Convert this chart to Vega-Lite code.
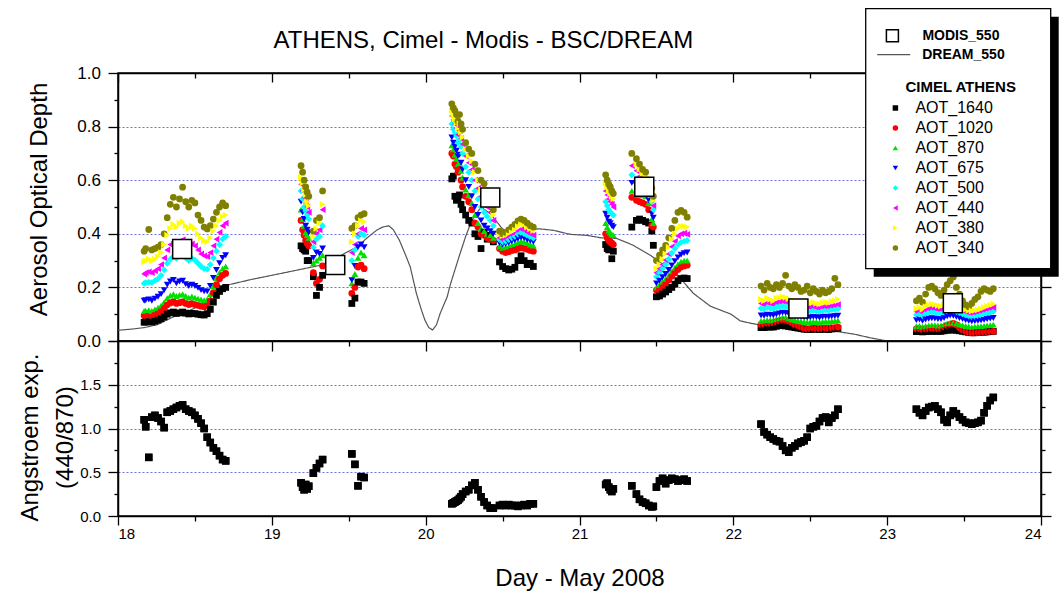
{
  "$schema": "https://vega.github.io/schema/vega-lite/v6.json",
  "padding": {"left": 17, "top": 8, "right": 0, "bottom": 0},
  "bounds": "flush",
  "title": {"text": "ATHENS, Cimel - Modis - BSC/DREAM", "fontSize": 24, "font": "Liberation Sans", "fontWeight": "normal", "color": "black", "anchor": "middle", "dx": -55, "dy": 48},
  "datasets": {
    "dream": [
      {"d":18.0,"v":0.040},{"d":18.1,"v":0.045},{"d":18.17,"v":0.050},{"d":18.25,"v":0.060},{"d":18.36,"v":0.090},{"d":18.45,"v":0.110},{"d":18.54,"v":0.134},{"d":18.6,"v":0.160},{"d":18.645,"v":0.200},{"d":18.75,"v":0.214},{"d":18.87,"v":0.230},{"d":19.0,"v":0.245},{"d":19.16,"v":0.264},{"d":19.31,"v":0.282},{"d":19.4,"v":0.300},{"d":19.47,"v":0.326},{"d":19.55,"v":0.350},{"d":19.62,"v":0.385},{"d":19.68,"v":0.413},{"d":19.72,"v":0.425},{"d":19.76,"v":0.430},{"d":19.79,"v":0.415},{"d":19.83,"v":0.375},{"d":19.87,"v":0.320},{"d":19.9,"v":0.276},{"d":19.94,"v":0.177},{"d":19.97,"v":0.120},{"d":19.995,"v":0.078},{"d":20.02,"v":0.050},{"d":20.045,"v":0.041},{"d":20.07,"v":0.060},{"d":20.095,"v":0.104},{"d":20.14,"v":0.165},{"d":20.16,"v":0.210},{"d":20.22,"v":0.320},{"d":20.26,"v":0.390},{"d":20.3,"v":0.450},{"d":20.36,"v":0.500},{"d":20.42,"v":0.475},{"d":20.49,"v":0.425},{"d":20.54,"v":0.394},{"d":20.62,"v":0.400},{"d":20.73,"v":0.419},{"d":20.83,"v":0.413},{"d":20.94,"v":0.398},{"d":21.05,"v":0.394},{"d":21.14,"v":0.385},{"d":21.24,"v":0.383},{"d":21.35,"v":0.357},{"d":21.46,"v":0.320},{"d":21.535,"v":0.289},{"d":21.655,"v":0.234},{"d":21.74,"v":0.178},{"d":21.85,"v":0.130},{"d":21.985,"v":0.100},{"d":22.045,"v":0.075},{"d":22.115,"v":0.066},{"d":22.245,"v":0.053},{"d":22.5,"v":0.041},{"d":22.68,"v":0.035},{"d":22.79,"v":0.025},{"d":22.89,"v":0.012},{"d":23.0,"v":0.0},{"d":23.5,"v":0.0},{"d":24.0,"v":0.0}
    ],
    "modis": [
      {"d":18.417,"v":0.343,"src":"MODIS_550"},{"d":19.412,"v":0.284,"src":"MODIS_550"},{"d":20.42,"v":0.535,"src":"MODIS_550"},{"d":21.421,"v":0.576,"src":"MODIS_550"},{"d":22.423,"v":0.121,"src":"MODIS_550"},{"d":23.427,"v":0.141,"src":"MODIS_550"}
    ],
    "aot": [
      {"d":18.17,"AOT_1640":0.070,"AOT_1020":0.095,"AOT_870":0.112,"AOT_675":0.150,"AOT_500":0.215,"AOT_440":0.250,"AOT_380":0.295,"AOT_340":0.335,"ang":1.10},
      {"d":18.18,"AOT_1640":0.071,"AOT_1020":0.096,"AOT_870":0.113,"AOT_675":0.152,"AOT_500":0.218,"AOT_440":0.255,"AOT_380":0.300,"AOT_340":0.345,"ang":1.02},
      {"d":18.20,"AOT_1640":0.072,"AOT_1020":0.098,"AOT_870":0.115,"AOT_675":0.155,"AOT_500":0.220,"AOT_440":0.258,"AOT_380":0.305,"AOT_340":0.416,"ang":0.67},
      {"d":18.22,"AOT_1640":0.071,"AOT_1020":0.096,"AOT_870":0.112,"AOT_675":0.150,"AOT_500":0.218,"AOT_440":0.255,"AOT_380":0.300,"AOT_340":0.340,"ang":1.13},
      {"d":18.24,"AOT_1640":0.074,"AOT_1020":0.100,"AOT_870":0.118,"AOT_675":0.158,"AOT_500":0.225,"AOT_440":0.262,"AOT_380":0.305,"AOT_340":0.345,"ang":1.15},
      {"d":18.26,"AOT_1640":0.078,"AOT_1020":0.105,"AOT_870":0.124,"AOT_675":0.165,"AOT_500":0.232,"AOT_440":0.270,"AOT_380":0.315,"AOT_340":0.350,"ang":1.12},
      {"d":18.28,"AOT_1640":0.083,"AOT_1020":0.112,"AOT_870":0.132,"AOT_675":0.175,"AOT_500":0.245,"AOT_440":0.285,"AOT_380":0.330,"AOT_340":0.360,"ang":1.08},
      {"d":18.30,"AOT_1640":0.090,"AOT_1020":0.122,"AOT_870":0.145,"AOT_675":0.190,"AOT_500":0.265,"AOT_440":0.310,"AOT_380":0.360,"AOT_340":0.400,"ang":1.01},
      {"d":18.32,"AOT_1640":0.100,"AOT_1020":0.135,"AOT_870":0.160,"AOT_675":0.210,"AOT_500":0.290,"AOT_440":0.340,"AOT_380":0.395,"AOT_340":0.460,"ang":1.185},
      {"d":18.34,"AOT_1640":0.105,"AOT_1020":0.142,"AOT_870":0.170,"AOT_675":0.222,"AOT_500":0.305,"AOT_440":0.360,"AOT_380":0.420,"AOT_340":0.510,"ang":1.20},
      {"d":18.36,"AOT_1640":0.108,"AOT_1020":0.146,"AOT_870":0.175,"AOT_675":0.228,"AOT_500":0.315,"AOT_440":0.370,"AOT_380":0.435,"AOT_340":0.536,"ang":1.22},
      {"d":18.38,"AOT_1640":0.103,"AOT_1020":0.140,"AOT_870":0.168,"AOT_675":0.215,"AOT_500":0.308,"AOT_440":0.362,"AOT_380":0.425,"AOT_340":0.500,"ang":1.24},
      {"d":18.40,"AOT_1640":0.105,"AOT_1020":0.143,"AOT_870":0.172,"AOT_675":0.222,"AOT_500":0.318,"AOT_440":0.372,"AOT_380":0.440,"AOT_340":0.530,"ang":1.26},
      {"d":18.42,"AOT_1640":0.108,"AOT_1020":0.146,"AOT_870":0.175,"AOT_675":0.225,"AOT_500":0.322,"AOT_440":0.378,"AOT_380":0.445,"AOT_340":0.574,"ang":1.27},
      {"d":18.44,"AOT_1640":0.104,"AOT_1020":0.140,"AOT_870":0.168,"AOT_675":0.212,"AOT_500":0.310,"AOT_440":0.365,"AOT_380":0.430,"AOT_340":0.520,"ang":1.22},
      {"d":18.46,"AOT_1640":0.101,"AOT_1020":0.136,"AOT_870":0.162,"AOT_675":0.205,"AOT_500":0.300,"AOT_440":0.355,"AOT_380":0.420,"AOT_340":0.500,"ang":1.20},
      {"d":18.48,"AOT_1640":0.103,"AOT_1020":0.139,"AOT_870":0.166,"AOT_675":0.210,"AOT_500":0.308,"AOT_440":0.362,"AOT_380":0.430,"AOT_340":0.525,"ang":1.185},
      {"d":18.50,"AOT_1640":0.102,"AOT_1020":0.136,"AOT_870":0.162,"AOT_675":0.205,"AOT_500":0.302,"AOT_440":0.355,"AOT_380":0.420,"AOT_340":0.515,"ang":1.15},
      {"d":18.52,"AOT_1640":0.100,"AOT_1020":0.133,"AOT_870":0.158,"AOT_675":0.198,"AOT_500":0.290,"AOT_440":0.340,"AOT_380":0.400,"AOT_340":0.470,"ang":1.11},
      {"d":18.54,"AOT_1640":0.098,"AOT_1020":0.130,"AOT_870":0.155,"AOT_675":0.190,"AOT_500":0.278,"AOT_440":0.325,"AOT_380":0.385,"AOT_340":0.450,"ang":1.06},
      {"d":18.56,"AOT_1640":0.097,"AOT_1020":0.128,"AOT_870":0.152,"AOT_675":0.185,"AOT_500":0.270,"AOT_440":0.318,"AOT_380":0.375,"AOT_340":0.425,"ang":1.00},
      {"d":18.58,"AOT_1640":0.102,"AOT_1020":0.132,"AOT_870":0.155,"AOT_675":0.185,"AOT_500":0.268,"AOT_440":0.315,"AOT_380":0.370,"AOT_340":0.418,"ang":0.90},
      {"d":18.60,"AOT_1640":0.118,"AOT_1020":0.150,"AOT_870":0.175,"AOT_675":0.205,"AOT_500":0.285,"AOT_440":0.330,"AOT_380":0.385,"AOT_340":0.430,"ang":0.84},
      {"d":18.62,"AOT_1640":0.145,"AOT_1020":0.180,"AOT_870":0.205,"AOT_675":0.235,"AOT_500":0.310,"AOT_440":0.355,"AOT_380":0.410,"AOT_340":0.455,"ang":0.78},
      {"d":18.64,"AOT_1640":0.170,"AOT_1020":0.210,"AOT_870":0.235,"AOT_675":0.265,"AOT_500":0.335,"AOT_440":0.380,"AOT_380":0.430,"AOT_340":0.480,"ang":0.74},
      {"d":18.66,"AOT_1640":0.185,"AOT_1020":0.232,"AOT_870":0.255,"AOT_675":0.290,"AOT_500":0.360,"AOT_440":0.405,"AOT_380":0.450,"AOT_340":0.500,"ang":0.69},
      {"d":18.68,"AOT_1640":0.195,"AOT_1020":0.245,"AOT_870":0.270,"AOT_675":0.310,"AOT_500":0.380,"AOT_440":0.430,"AOT_380":0.465,"AOT_340":0.515,"ang":0.645},
      {"d":18.70,"AOT_1640":0.200,"AOT_1020":0.252,"AOT_870":0.278,"AOT_675":0.320,"AOT_500":0.390,"AOT_440":0.440,"AOT_380":0.470,"AOT_340":0.505,"ang":0.63},
      {"d":19.19,"AOT_1640":0.355,"AOT_1020":0.450,"AOT_870":0.490,"AOT_675":0.520,"AOT_500":0.560,"AOT_440":0.585,"AOT_380":0.610,"AOT_340":0.654,"ang":0.38},
      {"d":19.20,"AOT_1640":0.345,"AOT_1020":0.415,"AOT_870":0.455,"AOT_675":0.480,"AOT_500":0.530,"AOT_440":0.560,"AOT_380":0.590,"AOT_340":0.630,"ang":0.33},
      {"d":19.21,"AOT_1640":0.340,"AOT_1020":0.395,"AOT_870":0.430,"AOT_675":0.455,"AOT_500":0.500,"AOT_440":0.535,"AOT_380":0.565,"AOT_340":0.600,"ang":0.30},
      {"d":19.22,"AOT_1640":0.335,"AOT_1020":0.375,"AOT_870":0.405,"AOT_675":0.430,"AOT_500":0.485,"AOT_440":0.515,"AOT_380":0.545,"AOT_340":0.575,"ang":0.36},
      {"d":19.23,"AOT_1640":0.300,"AOT_1020":0.365,"AOT_870":0.395,"AOT_675":0.415,"AOT_500":0.470,"AOT_440":0.500,"AOT_380":0.520,"AOT_340":0.555,"ang":0.31},
      {"d":19.24,"AOT_1640":0.300,"AOT_1020":0.355,"AOT_870":0.385,"AOT_675":0.405,"AOT_500":0.455,"AOT_440":0.480,"AOT_380":0.505,"AOT_340":0.540,"ang":0.34},
      {"d":19.27,"AOT_1640":0.240,"AOT_1020":0.255,"AOT_870":0.290,"AOT_675":0.310,"AOT_500":0.350,"AOT_440":0.370,"AOT_380":0.390,"AOT_340":0.410,"ang":0.49},
      {"d":19.29,"AOT_1640":0.170,"AOT_1020":0.215,"AOT_870":0.300,"AOT_675":0.330,"AOT_500":0.380,"AOT_440":0.400,"AOT_380":0.420,"AOT_340":0.450,"ang":0.55},
      {"d":19.31,"AOT_1640":0.200,"AOT_1020":0.230,"AOT_870":0.310,"AOT_675":0.325,"AOT_500":0.390,"AOT_440":0.415,"AOT_380":0.440,"AOT_340":0.460,"ang":0.60},
      {"d":19.33,"AOT_1640":0.245,"AOT_1020":0.280,"AOT_870":0.320,"AOT_675":0.345,"AOT_500":0.430,"AOT_440":0.490,"AOT_380":0.510,"AOT_340":0.560,"ang":0.645},
      {"d":19.52,"AOT_1640":0.140,"AOT_1020":0.178,"AOT_870":0.215,"AOT_675":0.227,"AOT_500":0.300,"AOT_440":0.330,"AOT_380":0.370,"AOT_340":0.420,"ang":0.71},
      {"d":19.54,"AOT_1640":0.160,"AOT_1020":0.200,"AOT_870":0.250,"AOT_675":0.280,"AOT_500":0.340,"AOT_440":0.360,"AOT_380":0.400,"AOT_340":0.430,"ang":0.59},
      {"d":19.56,"AOT_1640":0.220,"AOT_1020":0.276,"AOT_870":0.310,"AOT_675":0.350,"AOT_500":0.390,"AOT_440":0.400,"AOT_380":0.430,"AOT_340":0.460,"ang":0.345},
      {"d":19.58,"AOT_1640":0.220,"AOT_1020":0.283,"AOT_870":0.330,"AOT_675":0.360,"AOT_500":0.400,"AOT_440":0.420,"AOT_380":0.450,"AOT_340":0.470,"ang":0.45},
      {"d":19.60,"AOT_1640":0.215,"AOT_1020":0.270,"AOT_870":0.320,"AOT_675":0.350,"AOT_500":0.395,"AOT_440":0.415,"AOT_380":0.445,"AOT_340":0.475,"ang":0.44},
      {"d":20.17,"AOT_1640":0.605,"AOT_1020":0.700,"AOT_870":0.730,"AOT_675":0.760,"AOT_500":0.810,"AOT_440":0.840,"AOT_380":0.860,"AOT_340":0.885,"ang":0.14},
      {"d":20.18,"AOT_1640":0.615,"AOT_1020":0.690,"AOT_870":0.715,"AOT_675":0.740,"AOT_500":0.790,"AOT_440":0.825,"AOT_380":0.845,"AOT_340":0.870,"ang":0.15},
      {"d":20.19,"AOT_1640":0.540,"AOT_1020":0.660,"AOT_870":0.695,"AOT_675":0.725,"AOT_500":0.780,"AOT_440":0.810,"AOT_380":0.830,"AOT_340":0.860,"ang":0.16},
      {"d":20.20,"AOT_1640":0.525,"AOT_1020":0.650,"AOT_870":0.680,"AOT_675":0.710,"AOT_500":0.765,"AOT_440":0.795,"AOT_380":0.815,"AOT_340":0.845,"ang":0.17},
      {"d":20.21,"AOT_1640":0.530,"AOT_1020":0.630,"AOT_870":0.660,"AOT_675":0.690,"AOT_500":0.740,"AOT_440":0.770,"AOT_380":0.790,"AOT_340":0.820,"ang":0.18},
      {"d":20.22,"AOT_1640":0.545,"AOT_1020":0.640,"AOT_870":0.665,"AOT_675":0.695,"AOT_500":0.750,"AOT_440":0.785,"AOT_380":0.810,"AOT_340":0.845,"ang":0.20},
      {"d":20.23,"AOT_1640":0.510,"AOT_1020":0.600,"AOT_870":0.635,"AOT_675":0.665,"AOT_500":0.725,"AOT_440":0.755,"AOT_380":0.780,"AOT_340":0.810,"ang":0.22},
      {"d":20.24,"AOT_1640":0.490,"AOT_1020":0.575,"AOT_870":0.610,"AOT_675":0.640,"AOT_500":0.700,"AOT_440":0.735,"AOT_380":0.760,"AOT_340":0.790,"ang":0.25},
      {"d":20.26,"AOT_1640":0.470,"AOT_1020":0.540,"AOT_870":0.565,"AOT_675":0.600,"AOT_500":0.650,"AOT_440":0.690,"AOT_380":0.715,"AOT_340":0.740,"ang":0.28},
      {"d":20.28,"AOT_1640":0.450,"AOT_1020":0.520,"AOT_870":0.545,"AOT_675":0.575,"AOT_500":0.630,"AOT_440":0.665,"AOT_380":0.690,"AOT_340":0.716,"ang":0.30},
      {"d":20.30,"AOT_1640":0.440,"AOT_1020":0.490,"AOT_870":0.515,"AOT_675":0.540,"AOT_500":0.600,"AOT_440":0.640,"AOT_380":0.670,"AOT_340":0.700,"ang":0.35},
      {"d":20.32,"AOT_1640":0.400,"AOT_1020":0.440,"AOT_870":0.470,"AOT_675":0.500,"AOT_500":0.560,"AOT_440":0.600,"AOT_380":0.630,"AOT_340":0.660,"ang":0.38},
      {"d":20.34,"AOT_1640":0.390,"AOT_1020":0.425,"AOT_870":0.440,"AOT_675":0.470,"AOT_500":0.530,"AOT_440":0.570,"AOT_380":0.600,"AOT_340":0.636,"ang":0.30},
      {"d":20.36,"AOT_1640":0.345,"AOT_1020":0.400,"AOT_870":0.420,"AOT_675":0.450,"AOT_500":0.500,"AOT_440":0.540,"AOT_380":0.565,"AOT_340":0.600,"ang":0.22},
      {"d":20.38,"AOT_1640":0.406,"AOT_1020":0.395,"AOT_870":0.410,"AOT_675":0.430,"AOT_500":0.480,"AOT_440":0.520,"AOT_380":0.555,"AOT_340":0.587,"ang":0.16},
      {"d":20.40,"AOT_1640":0.380,"AOT_1020":0.385,"AOT_870":0.400,"AOT_675":0.420,"AOT_500":0.465,"AOT_440":0.500,"AOT_380":0.530,"AOT_340":0.560,"ang":0.12},
      {"d":20.42,"AOT_1640":0.394,"AOT_1020":0.380,"AOT_870":0.395,"AOT_675":0.410,"AOT_500":0.450,"AOT_440":0.480,"AOT_380":0.510,"AOT_340":0.540,"ang":0.09},
      {"d":20.44,"AOT_1640":0.370,"AOT_1020":0.375,"AOT_870":0.385,"AOT_675":0.400,"AOT_500":0.430,"AOT_440":0.450,"AOT_380":0.470,"AOT_340":0.490,"ang":0.09},
      {"d":20.48,"AOT_1640":0.295,"AOT_1020":0.345,"AOT_870":0.352,"AOT_675":0.365,"AOT_500":0.378,"AOT_440":0.385,"AOT_380":0.400,"AOT_340":0.410,"ang":0.12},
      {"d":20.50,"AOT_1640":0.278,"AOT_1020":0.335,"AOT_870":0.348,"AOT_675":0.360,"AOT_500":0.370,"AOT_440":0.378,"AOT_380":0.392,"AOT_340":0.400,"ang":0.13},
      {"d":20.52,"AOT_1640":0.270,"AOT_1020":0.330,"AOT_870":0.350,"AOT_675":0.362,"AOT_500":0.372,"AOT_440":0.380,"AOT_380":0.395,"AOT_340":0.405,"ang":0.12},
      {"d":20.54,"AOT_1640":0.265,"AOT_1020":0.333,"AOT_870":0.352,"AOT_675":0.366,"AOT_500":0.378,"AOT_440":0.388,"AOT_380":0.402,"AOT_340":0.415,"ang":0.13},
      {"d":20.56,"AOT_1640":0.268,"AOT_1020":0.338,"AOT_870":0.358,"AOT_675":0.372,"AOT_500":0.385,"AOT_440":0.395,"AOT_380":0.410,"AOT_340":0.425,"ang":0.12},
      {"d":20.58,"AOT_1640":0.275,"AOT_1020":0.340,"AOT_870":0.362,"AOT_675":0.376,"AOT_500":0.390,"AOT_440":0.400,"AOT_380":0.418,"AOT_340":0.435,"ang":0.12},
      {"d":20.60,"AOT_1640":0.300,"AOT_1020":0.345,"AOT_870":0.368,"AOT_675":0.382,"AOT_500":0.398,"AOT_440":0.410,"AOT_380":0.430,"AOT_340":0.448,"ang":0.11},
      {"d":20.62,"AOT_1640":0.318,"AOT_1020":0.348,"AOT_870":0.372,"AOT_675":0.386,"AOT_500":0.404,"AOT_440":0.418,"AOT_380":0.438,"AOT_340":0.455,"ang":0.12},
      {"d":20.64,"AOT_1640":0.300,"AOT_1020":0.346,"AOT_870":0.370,"AOT_675":0.384,"AOT_500":0.400,"AOT_440":0.414,"AOT_380":0.434,"AOT_340":0.450,"ang":0.13},
      {"d":20.66,"AOT_1640":0.285,"AOT_1020":0.342,"AOT_870":0.365,"AOT_675":0.378,"AOT_500":0.394,"AOT_440":0.406,"AOT_380":0.425,"AOT_340":0.440,"ang":0.12},
      {"d":20.68,"AOT_1640":0.290,"AOT_1020":0.338,"AOT_870":0.360,"AOT_675":0.374,"AOT_500":0.388,"AOT_440":0.400,"AOT_380":0.418,"AOT_340":0.430,"ang":0.14},
      {"d":20.70,"AOT_1640":0.278,"AOT_1020":0.335,"AOT_870":0.356,"AOT_675":0.370,"AOT_500":0.384,"AOT_440":0.395,"AOT_380":0.412,"AOT_340":0.425,"ang":0.14},
      {"d":21.17,"AOT_1640":0.360,"AOT_1020":0.400,"AOT_870":0.440,"AOT_675":0.475,"AOT_500":0.520,"AOT_440":0.560,"AOT_380":0.590,"AOT_340":0.620,"ang":0.36},
      {"d":21.18,"AOT_1640":0.345,"AOT_1020":0.385,"AOT_870":0.425,"AOT_675":0.460,"AOT_500":0.505,"AOT_440":0.545,"AOT_380":0.575,"AOT_340":0.600,"ang":0.375},
      {"d":21.19,"AOT_1640":0.340,"AOT_1020":0.375,"AOT_870":0.412,"AOT_675":0.445,"AOT_500":0.490,"AOT_440":0.530,"AOT_380":0.560,"AOT_340":0.585,"ang":0.33},
      {"d":21.20,"AOT_1640":0.345,"AOT_1020":0.370,"AOT_870":0.405,"AOT_675":0.440,"AOT_500":0.480,"AOT_440":0.520,"AOT_380":0.550,"AOT_340":0.575,"ang":0.30},
      {"d":21.21,"AOT_1640":0.307,"AOT_1020":0.365,"AOT_870":0.398,"AOT_675":0.430,"AOT_500":0.475,"AOT_440":0.510,"AOT_380":0.540,"AOT_340":0.560,"ang":0.28},
      {"d":21.22,"AOT_1640":0.335,"AOT_1020":0.360,"AOT_870":0.395,"AOT_675":0.425,"AOT_500":0.470,"AOT_440":0.500,"AOT_380":0.530,"AOT_340":0.550,"ang":0.31},
      {"d":21.34,"AOT_1640":0.425,"AOT_1020":0.536,"AOT_870":0.560,"AOT_675":0.590,"AOT_500":0.620,"AOT_440":0.654,"AOT_380":0.700,"AOT_340":0.700,"ang":0.345},
      {"d":21.37,"AOT_1640":0.450,"AOT_1020":0.525,"AOT_870":0.550,"AOT_675":0.580,"AOT_500":0.605,"AOT_440":0.635,"AOT_380":0.660,"AOT_340":0.680,"ang":0.25},
      {"d":21.39,"AOT_1640":0.455,"AOT_1020":0.520,"AOT_870":0.545,"AOT_675":0.565,"AOT_500":0.590,"AOT_440":0.615,"AOT_380":0.640,"AOT_340":0.660,"ang":0.19},
      {"d":21.41,"AOT_1640":0.450,"AOT_1020":0.515,"AOT_870":0.545,"AOT_675":0.560,"AOT_500":0.580,"AOT_440":0.600,"AOT_380":0.625,"AOT_340":0.640,"ang":0.16},
      {"d":21.43,"AOT_1640":0.445,"AOT_1020":0.510,"AOT_870":0.540,"AOT_675":0.555,"AOT_500":0.575,"AOT_440":0.590,"AOT_380":0.615,"AOT_340":0.630,"ang":0.145},
      {"d":21.45,"AOT_1640":0.440,"AOT_1020":0.490,"AOT_870":0.515,"AOT_675":0.525,"AOT_500":0.545,"AOT_440":0.560,"AOT_380":0.585,"AOT_340":0.600,"ang":0.12},
      {"d":21.47,"AOT_1640":0.410,"AOT_1020":0.430,"AOT_870":0.455,"AOT_675":0.475,"AOT_500":0.520,"AOT_440":0.535,"AOT_380":0.555,"AOT_340":0.570,"ang":0.105},
      {"d":21.48,"AOT_1640":0.357,"AOT_1020":0.425,"AOT_870":0.440,"AOT_675":0.460,"AOT_500":0.490,"AOT_440":0.505,"AOT_380":0.525,"AOT_340":0.540,"ang":0.11},
      {"d":21.50,"AOT_1640":0.165,"AOT_1020":0.190,"AOT_870":0.200,"AOT_675":0.215,"AOT_500":0.240,"AOT_440":0.255,"AOT_380":0.270,"AOT_340":0.300,"ang":0.33},
      {"d":21.52,"AOT_1640":0.168,"AOT_1020":0.195,"AOT_870":0.210,"AOT_675":0.225,"AOT_500":0.255,"AOT_440":0.270,"AOT_380":0.285,"AOT_340":0.320,"ang":0.40},
      {"d":21.54,"AOT_1640":0.175,"AOT_1020":0.205,"AOT_870":0.222,"AOT_675":0.238,"AOT_500":0.270,"AOT_440":0.285,"AOT_380":0.305,"AOT_340":0.340,"ang":0.43},
      {"d":21.56,"AOT_1640":0.183,"AOT_1020":0.215,"AOT_870":0.232,"AOT_675":0.250,"AOT_500":0.285,"AOT_440":0.302,"AOT_380":0.325,"AOT_340":0.357,"ang":0.37},
      {"d":21.58,"AOT_1640":0.192,"AOT_1020":0.228,"AOT_870":0.245,"AOT_675":0.265,"AOT_500":0.305,"AOT_440":0.325,"AOT_380":0.350,"AOT_340":0.385,"ang":0.41},
      {"d":21.60,"AOT_1640":0.200,"AOT_1020":0.242,"AOT_870":0.260,"AOT_675":0.282,"AOT_500":0.328,"AOT_440":0.352,"AOT_380":0.380,"AOT_340":0.420,"ang":0.43},
      {"d":21.62,"AOT_1640":0.212,"AOT_1020":0.255,"AOT_870":0.274,"AOT_675":0.298,"AOT_500":0.345,"AOT_440":0.372,"AOT_380":0.400,"AOT_340":0.450,"ang":0.42},
      {"d":21.64,"AOT_1640":0.225,"AOT_1020":0.267,"AOT_870":0.287,"AOT_675":0.312,"AOT_500":0.360,"AOT_440":0.392,"AOT_380":0.420,"AOT_340":0.480,"ang":0.40},
      {"d":21.66,"AOT_1640":0.233,"AOT_1020":0.276,"AOT_870":0.296,"AOT_675":0.322,"AOT_500":0.368,"AOT_440":0.400,"AOT_380":0.428,"AOT_340":0.487,"ang":0.41},
      {"d":21.68,"AOT_1640":0.235,"AOT_1020":0.280,"AOT_870":0.300,"AOT_675":0.328,"AOT_500":0.372,"AOT_440":0.402,"AOT_380":0.428,"AOT_340":0.480,"ang":0.42},
      {"d":21.70,"AOT_1640":0.233,"AOT_1020":0.283,"AOT_870":0.300,"AOT_675":0.330,"AOT_500":0.375,"AOT_440":0.398,"AOT_380":0.425,"AOT_340":0.462,"ang":0.40},
      {"d":22.18,"AOT_1640":0.050,"AOT_1020":0.062,"AOT_870":0.075,"AOT_675":0.095,"AOT_500":0.122,"AOT_440":0.140,"AOT_380":0.155,"AOT_340":0.205,"ang":1.05},
      {"d":22.20,"AOT_1640":0.050,"AOT_1020":0.063,"AOT_870":0.075,"AOT_675":0.094,"AOT_500":0.120,"AOT_440":0.136,"AOT_380":0.150,"AOT_340":0.190,"ang":0.96},
      {"d":22.22,"AOT_1640":0.052,"AOT_1020":0.066,"AOT_870":0.078,"AOT_675":0.098,"AOT_500":0.125,"AOT_440":0.143,"AOT_380":0.160,"AOT_340":0.215,"ang":0.93},
      {"d":22.24,"AOT_1640":0.052,"AOT_1020":0.066,"AOT_870":0.078,"AOT_675":0.097,"AOT_500":0.122,"AOT_440":0.140,"AOT_380":0.155,"AOT_340":0.200,"ang":0.90},
      {"d":22.26,"AOT_1640":0.052,"AOT_1020":0.068,"AOT_870":0.078,"AOT_675":0.096,"AOT_500":0.120,"AOT_440":0.137,"AOT_380":0.150,"AOT_340":0.195,"ang":0.88},
      {"d":22.28,"AOT_1640":0.055,"AOT_1020":0.072,"AOT_870":0.082,"AOT_675":0.100,"AOT_500":0.126,"AOT_440":0.144,"AOT_380":0.160,"AOT_340":0.210,"ang":0.86},
      {"d":22.30,"AOT_1640":0.057,"AOT_1020":0.075,"AOT_870":0.085,"AOT_675":0.103,"AOT_500":0.128,"AOT_440":0.146,"AOT_380":0.162,"AOT_340":0.200,"ang":0.85},
      {"d":22.32,"AOT_1640":0.058,"AOT_1020":0.078,"AOT_870":0.088,"AOT_675":0.106,"AOT_500":0.130,"AOT_440":0.148,"AOT_380":0.165,"AOT_340":0.215,"ang":0.80},
      {"d":22.34,"AOT_1640":0.056,"AOT_1020":0.078,"AOT_870":0.088,"AOT_675":0.105,"AOT_500":0.128,"AOT_440":0.146,"AOT_380":0.163,"AOT_340":0.245,"ang":0.75},
      {"d":22.36,"AOT_1640":0.054,"AOT_1020":0.074,"AOT_870":0.085,"AOT_675":0.101,"AOT_500":0.124,"AOT_440":0.142,"AOT_380":0.158,"AOT_340":0.205,"ang":0.73},
      {"d":22.38,"AOT_1640":0.052,"AOT_1020":0.068,"AOT_870":0.081,"AOT_675":0.097,"AOT_500":0.120,"AOT_440":0.137,"AOT_380":0.152,"AOT_340":0.195,"ang":0.78},
      {"d":22.40,"AOT_1640":0.050,"AOT_1020":0.062,"AOT_870":0.078,"AOT_675":0.094,"AOT_500":0.118,"AOT_440":0.135,"AOT_380":0.150,"AOT_340":0.210,"ang":0.80},
      {"d":22.42,"AOT_1640":0.048,"AOT_1020":0.058,"AOT_870":0.075,"AOT_675":0.092,"AOT_500":0.116,"AOT_440":0.133,"AOT_380":0.148,"AOT_340":0.200,"ang":0.83},
      {"d":22.44,"AOT_1640":0.046,"AOT_1020":0.052,"AOT_870":0.073,"AOT_675":0.090,"AOT_500":0.114,"AOT_440":0.130,"AOT_380":0.145,"AOT_340":0.185,"ang":0.845},
      {"d":22.46,"AOT_1640":0.044,"AOT_1020":0.048,"AOT_870":0.071,"AOT_675":0.088,"AOT_500":0.112,"AOT_440":0.126,"AOT_380":0.140,"AOT_340":0.190,"ang":0.86},
      {"d":22.48,"AOT_1640":0.043,"AOT_1020":0.045,"AOT_870":0.070,"AOT_675":0.087,"AOT_500":0.110,"AOT_440":0.124,"AOT_380":0.138,"AOT_340":0.205,"ang":0.90},
      {"d":22.50,"AOT_1640":0.043,"AOT_1020":0.046,"AOT_870":0.071,"AOT_675":0.088,"AOT_500":0.112,"AOT_440":0.125,"AOT_380":0.140,"AOT_340":0.180,"ang":1.00},
      {"d":22.52,"AOT_1640":0.044,"AOT_1020":0.048,"AOT_870":0.072,"AOT_675":0.090,"AOT_500":0.114,"AOT_440":0.128,"AOT_380":0.145,"AOT_340":0.195,"ang":1.02},
      {"d":22.54,"AOT_1640":0.044,"AOT_1020":0.047,"AOT_870":0.071,"AOT_675":0.089,"AOT_500":0.112,"AOT_440":0.125,"AOT_380":0.140,"AOT_340":0.185,"ang":1.03},
      {"d":22.56,"AOT_1640":0.043,"AOT_1020":0.046,"AOT_870":0.070,"AOT_675":0.087,"AOT_500":0.110,"AOT_440":0.122,"AOT_380":0.138,"AOT_340":0.175,"ang":1.08},
      {"d":22.58,"AOT_1640":0.044,"AOT_1020":0.047,"AOT_870":0.072,"AOT_675":0.090,"AOT_500":0.113,"AOT_440":0.126,"AOT_380":0.142,"AOT_340":0.190,"ang":1.12},
      {"d":22.60,"AOT_1640":0.044,"AOT_1020":0.048,"AOT_870":0.073,"AOT_675":0.091,"AOT_500":0.115,"AOT_440":0.128,"AOT_380":0.145,"AOT_340":0.180,"ang":1.13},
      {"d":22.62,"AOT_1640":0.043,"AOT_1020":0.047,"AOT_870":0.072,"AOT_675":0.090,"AOT_500":0.114,"AOT_440":0.127,"AOT_380":0.143,"AOT_340":0.185,"ang":1.07},
      {"d":22.64,"AOT_1640":0.045,"AOT_1020":0.049,"AOT_870":0.074,"AOT_675":0.092,"AOT_500":0.117,"AOT_440":0.130,"AOT_380":0.148,"AOT_340":0.195,"ang":1.12},
      {"d":22.66,"AOT_1640":0.046,"AOT_1020":0.050,"AOT_870":0.075,"AOT_675":0.093,"AOT_500":0.118,"AOT_440":0.132,"AOT_380":0.150,"AOT_340":0.234,"ang":1.15},
      {"d":22.68,"AOT_1640":0.047,"AOT_1020":0.052,"AOT_870":0.076,"AOT_675":0.094,"AOT_500":0.120,"AOT_440":0.136,"AOT_380":0.155,"AOT_340":0.210,"ang":1.22},
      {"d":23.19,"AOT_1640":0.035,"AOT_1020":0.045,"AOT_870":0.055,"AOT_675":0.078,"AOT_500":0.098,"AOT_440":0.110,"AOT_380":0.120,"AOT_340":0.150,"ang":1.22},
      {"d":23.21,"AOT_1640":0.036,"AOT_1020":0.046,"AOT_870":0.056,"AOT_675":0.080,"AOT_500":0.100,"AOT_440":0.112,"AOT_380":0.125,"AOT_340":0.160,"ang":1.18},
      {"d":23.23,"AOT_1640":0.034,"AOT_1020":0.043,"AOT_870":0.053,"AOT_675":0.075,"AOT_500":0.095,"AOT_440":0.106,"AOT_380":0.118,"AOT_340":0.145,"ang":1.15},
      {"d":23.25,"AOT_1640":0.035,"AOT_1020":0.045,"AOT_870":0.056,"AOT_675":0.080,"AOT_500":0.102,"AOT_440":0.115,"AOT_380":0.128,"AOT_340":0.175,"ang":1.20},
      {"d":23.27,"AOT_1640":0.036,"AOT_1020":0.046,"AOT_870":0.058,"AOT_675":0.083,"AOT_500":0.106,"AOT_440":0.120,"AOT_380":0.135,"AOT_340":0.200,"ang":1.24},
      {"d":23.29,"AOT_1640":0.036,"AOT_1020":0.047,"AOT_870":0.059,"AOT_675":0.085,"AOT_500":0.108,"AOT_440":0.123,"AOT_380":0.138,"AOT_340":0.205,"ang":1.25},
      {"d":23.31,"AOT_1640":0.036,"AOT_1020":0.047,"AOT_870":0.059,"AOT_675":0.084,"AOT_500":0.107,"AOT_440":0.121,"AOT_380":0.136,"AOT_340":0.195,"ang":1.26},
      {"d":23.33,"AOT_1640":0.036,"AOT_1020":0.046,"AOT_870":0.058,"AOT_675":0.082,"AOT_500":0.104,"AOT_440":0.118,"AOT_380":0.132,"AOT_340":0.180,"ang":1.22},
      {"d":23.35,"AOT_1640":0.036,"AOT_1020":0.047,"AOT_870":0.058,"AOT_675":0.082,"AOT_500":0.103,"AOT_440":0.117,"AOT_380":0.130,"AOT_340":0.170,"ang":1.185},
      {"d":23.37,"AOT_1640":0.038,"AOT_1020":0.052,"AOT_870":0.062,"AOT_675":0.086,"AOT_500":0.107,"AOT_440":0.121,"AOT_380":0.135,"AOT_340":0.190,"ang":1.10},
      {"d":23.39,"AOT_1640":0.040,"AOT_1020":0.058,"AOT_870":0.066,"AOT_675":0.092,"AOT_500":0.112,"AOT_440":0.126,"AOT_380":0.140,"AOT_340":0.210,"ang":1.07},
      {"d":23.41,"AOT_1640":0.041,"AOT_1020":0.062,"AOT_870":0.068,"AOT_675":0.095,"AOT_500":0.114,"AOT_440":0.128,"AOT_380":0.142,"AOT_340":0.225,"ang":1.15},
      {"d":23.43,"AOT_1640":0.041,"AOT_1020":0.066,"AOT_870":0.068,"AOT_675":0.094,"AOT_500":0.113,"AOT_440":0.127,"AOT_380":0.140,"AOT_340":0.239,"ang":1.20},
      {"d":23.45,"AOT_1640":0.040,"AOT_1020":0.060,"AOT_870":0.066,"AOT_675":0.090,"AOT_500":0.110,"AOT_440":0.123,"AOT_380":0.136,"AOT_340":0.200,"ang":1.17},
      {"d":23.47,"AOT_1640":0.038,"AOT_1020":0.050,"AOT_870":0.062,"AOT_675":0.086,"AOT_500":0.106,"AOT_440":0.118,"AOT_380":0.130,"AOT_340":0.175,"ang":1.13},
      {"d":23.49,"AOT_1640":0.036,"AOT_1020":0.042,"AOT_870":0.059,"AOT_675":0.082,"AOT_500":0.101,"AOT_440":0.113,"AOT_380":0.124,"AOT_340":0.150,"ang":1.10},
      {"d":23.51,"AOT_1640":0.034,"AOT_1020":0.036,"AOT_870":0.056,"AOT_675":0.078,"AOT_500":0.097,"AOT_440":0.108,"AOT_380":0.118,"AOT_340":0.135,"ang":1.07},
      {"d":23.53,"AOT_1640":0.032,"AOT_1020":0.032,"AOT_870":0.054,"AOT_675":0.075,"AOT_500":0.093,"AOT_440":0.104,"AOT_380":0.114,"AOT_340":0.128,"ang":1.06},
      {"d":23.55,"AOT_1640":0.031,"AOT_1020":0.030,"AOT_870":0.052,"AOT_675":0.073,"AOT_500":0.091,"AOT_440":0.102,"AOT_380":0.112,"AOT_340":0.140,"ang":1.05},
      {"d":23.57,"AOT_1640":0.031,"AOT_1020":0.030,"AOT_870":0.053,"AOT_675":0.074,"AOT_500":0.092,"AOT_440":0.104,"AOT_380":0.114,"AOT_340":0.155,"ang":1.06},
      {"d":23.59,"AOT_1640":0.032,"AOT_1020":0.031,"AOT_870":0.054,"AOT_675":0.075,"AOT_500":0.094,"AOT_440":0.106,"AOT_380":0.116,"AOT_340":0.165,"ang":1.07},
      {"d":23.61,"AOT_1640":0.033,"AOT_1020":0.032,"AOT_870":0.055,"AOT_675":0.077,"AOT_500":0.097,"AOT_440":0.110,"AOT_380":0.120,"AOT_340":0.185,"ang":1.09},
      {"d":23.63,"AOT_1640":0.033,"AOT_1020":0.033,"AOT_870":0.056,"AOT_675":0.079,"AOT_500":0.100,"AOT_440":0.114,"AOT_380":0.125,"AOT_340":0.195,"ang":1.18},
      {"d":23.65,"AOT_1640":0.034,"AOT_1020":0.034,"AOT_870":0.058,"AOT_675":0.082,"AOT_500":0.104,"AOT_440":0.118,"AOT_380":0.130,"AOT_340":0.190,"ang":1.26},
      {"d":23.67,"AOT_1640":0.035,"AOT_1020":0.035,"AOT_870":0.059,"AOT_675":0.084,"AOT_500":0.107,"AOT_440":0.121,"AOT_380":0.134,"AOT_340":0.185,"ang":1.32},
      {"d":23.69,"AOT_1640":0.036,"AOT_1020":0.036,"AOT_870":0.061,"AOT_675":0.086,"AOT_500":0.110,"AOT_440":0.125,"AOT_380":0.138,"AOT_340":0.195,"ang":1.355}
    ]
  },
  "spacing": 0,
  "vconcat": [
    {
      "width": 923,
      "height": 268,
      "resolve": {"axis": {"x": "independent", "y": "independent"}},
      "layer": [
        {
          "data": {"name": "dream"},
          "mark": {"type": "point", "opacity": 0},
          "encoding": {
            "x": {"field": "d", "type": "quantitative", "axis": null},
            "y": {"field": "v", "type": "quantitative", "axis": null},
            "stroke": {"field": "v", "type": "quantitative", "scale": {"range": ["black", "black"]},
              "legend": {"orient": "none", "legendX": 755.7, "legendY": -56.3, "direction": "vertical", "gradientLength": 260, "gradientThickness": 185,
                "padding": 0, "title": null, "labelExpr": "''", "labelOffset": 0, "gradientStrokeWidth": 0}}
          }
        },
        {
          "data": {"name": "modis"},
          "mark": {"type": "point", "opacity": 0},
          "encoding": {
            "x": {"field": "d", "type": "quantitative", "axis": null},
            "y": {"field": "v", "type": "quantitative", "axis": null},
            "fill": {"field": "v", "type": "quantitative", "scale": {"range": ["white", "white"]},
              "legend": {"orient": "none", "legendX": 747.7, "legendY": -64.3, "direction": "vertical", "gradientLength": 260, "gradientThickness": 185,
                "padding": 0, "title": null, "labelExpr": "''", "labelOffset": 0, "gradientStrokeColor": "black", "gradientStrokeWidth": 1.3}}
          }
        },
        {
          "data": {"name": "dream"},
          "mark": {"type": "line", "strokeWidth": 1.2, "color": "#555555", "clip": true},
          "encoding": {
            "x": {"field": "d", "type": "quantitative", "scale": {"domain": [18, 24], "nice": false, "zero": false},
              "axis": {"orient": "bottom", "values": [18,18.5,19,19.5,20,20.5,21,21.5,22,22.5,23,23.5,24], "labels": false, "title": null, "grid": false,
                "tickSize": {"condition": {"test": "datum.value % 1 === 0", "value": 10}, "value": 5}}},
            "y": {"field": "v", "type": "quantitative", "scale": {"domain": [0, 1], "nice": false, "zero": false},
              "axis": {"orient": "left", "values": [0,0.1,0.2,0.3,0.4,0.5,0.6,0.7,0.8,0.9,1.0],
                "labelExpr": "round(datum.value*10) % 2 === 0 ? format(datum.value, '.1f') : ''",
                "tickSize": {"condition": {"test": "round(datum.value*10) % 2 === 0", "value": 10}, "value": 4},
                "labelPadding": 7.5,
                "grid": true,
                "gridOpacity": {"condition": {"test": "round(datum.value*10) % 2 === 0 && datum.value > 0.05 && datum.value < 0.95", "value": 1}, "value": 0},
                "title": "Aerosol Optical Depth", "titleFontSize": 24, "titleX": -72, "titleY": 126, "titleBaseline": "alphabetic", "titleAngle": -90}},
            "strokeDash": {"datum": "DREAM_550", "type": "nominal", "scale": {"range": [[1, 0]]},
              "legend": {"orient": "none", "legendX": 758.2, "legendY": -35.8, "title": null, "padding": 0,
                "labelFontSize": 14, "labelFontWeight": "bold", "labelColor": "black", "labelOffset": 11, "symbolSize": 1089, "symbolStrokeWidth": 1.2, "symbolOffset": 0, "symbolStrokeColor": "#555555"}}
          }
        },
        {
          "data": {"name": "aot"},
          "transform": [{"fold": ["AOT_1640","AOT_1020","AOT_870","AOT_675","AOT_500","AOT_440","AOT_380","AOT_340"], "as": ["series", "aod"]}],
          "mark": {"type": "point", "filled": true, "size": 46, "opacity": 1, "strokeWidth": 0},
          "encoding": {
            "x": {"field": "d", "type": "quantitative",
              "axis": {"orient": "top", "values": [18,18.5,19,19.5,20,20.5,21,21.5,22,22.5,23,23.5,24], "labels": false, "title": null, "grid": false,
                "tickSize": {"condition": {"test": "datum.value % 1 === 0", "value": -9}, "value": -5}}},
            "y": {"field": "aod", "type": "quantitative",
              "axis": {"orient": "right", "values": [0,0.1,0.2,0.3,0.4,0.5,0.6,0.7,0.8,0.9,1.0], "labels": false, "title": null, "grid": false,
                "tickSize": {"condition": {"test": "round(datum.value*10) % 2 === 0", "value": 10}, "value": 4}}},
            "color": {"field": "series", "type": "nominal",
              "scale": {"domain": ["AOT_1640","AOT_1020","AOT_870","AOT_675","AOT_500","AOT_440","AOT_380","AOT_340"],
                "range": ["#000000","#ff0000","#00e000","#0000ff","#00ffff","#ff00ff","#ffff00","#808000"]},
              "legend": {"orient": "none", "legendX": 787.4, "legendY": 6.5,
                "title": "CIMEL ATHENS", "titleFontSize": 15, "titleFontWeight": "bold", "titleAnchor": "start", "titleAlign": "left", "titlePadding": 5.5, "titleColor": "black",
                "padding": 0, "labelFontSize": 16, "labelColor": "black", "labelOffset": 12, "symbolOffset": -18, "symbolSize": 30, "rowPadding": 4}},
            "shape": {"field": "series", "type": "nominal",
              "scale": {"domain": ["AOT_1640","AOT_1020","AOT_870","AOT_675","AOT_500","AOT_440","AOT_380","AOT_340"],
                "range": ["square","circle","triangle-up","triangle-down","diamond","triangle-left","triangle-right","circle"]},
              "legend": {"orient": "none", "legendX": 787.4, "legendY": 6.5,
                "title": "CIMEL ATHENS", "titleFontSize": 15, "titleFontWeight": "bold", "titleAnchor": "start", "titleAlign": "left", "titlePadding": 5.5, "titleColor": "black",
                "padding": 0, "labelFontSize": 16, "labelColor": "black", "labelOffset": 12, "symbolOffset": -18, "symbolSize": 30, "rowPadding": 4}}
          }
        },
        {
          "data": {"name": "modis"},
          "mark": {"type": "point", "shape": "square", "size": 361, "filled": true, "fill": "white", "stroke": "black", "strokeWidth": 1.5},
          "encoding": {
            "x": {"field": "d", "type": "quantitative", "axis": null},
            "y": {"field": "v", "type": "quantitative", "axis": null},
            "opacity": {"field": "src", "type": "nominal", "scale": {"domain": ["MODIS_550"], "range": [1, 1]},
              "legend": {"orient": "none", "legendX": 767.4, "legendY": -44.3, "title": null, "padding": 0,
                "labelFontSize": 14, "labelFontWeight": "bold", "labelColor": "black", "labelOffset": 23, "symbolSize": 144, "symbolOffset": 0}}
          }
        }
      ]
    },
    {
      "width": 923,
      "height": 175,
      "data": {"name": "aot"},
      "resolve": {"axis": {"x": "independent", "y": "independent"}},
      "layer": [
        {
          "mark": {"type": "square", "color": "black", "size": 56, "opacity": 1},
          "encoding": {
            "x": {"field": "d", "type": "quantitative", "scale": {"domain": [18, 24], "nice": false, "zero": false},
              "axis": {"orient": "bottom", "values": [18,18.5,19,19.5,20,20.5,21,21.5,22,22.5,23,23.5,24],
                "labelExpr": "datum.value % 1 === 0 ? format(datum.value, 'd') : ''",
                "tickSize": {"condition": {"test": "datum.value % 1 === 0", "value": 9}, "value": 5},
                "labelPadding": 1, "labelFontSize": 15, "grid": false,
                "title": "Day - May 2008", "titleFontSize": 24, "titleBaseline": "alphabetic", "titleY": 69}},
            "y": {"field": "ang", "type": "quantitative", "scale": {"domain": [0, 2], "nice": false, "zero": false},
              "axis": {"orient": "left", "values": [0,0.25,0.5,0.75,1.0,1.25,1.5,1.75,2.0],
                "labelExpr": "round(datum.value*4) % 2 === 0 && datum.value < 1.9 ? format(datum.value, '.1f') : ''",
                "tickSize": {"condition": {"test": "round(datum.value*4) % 2 === 0", "value": 10}, "value": 4},
                "labelPadding": 7.5, "labelFontSize": 15,
                "grid": true,
                "gridOpacity": {"condition": {"test": "round(datum.value*4) % 2 === 0 && datum.value > 0.1 && datum.value < 1.9", "value": 1}, "value": 0},
                "title": ["Angstroem exp.", "(440/870)"], "titleFontSize": 24, "titleLineHeight": 35, "titleX": -80.3, "titleY": 96, "titleBaseline": "alphabetic", "titleAngle": -90}}
          }
        },
        {
          "mark": {"type": "square", "color": "black", "size": 56, "opacity": 1},
          "encoding": {
            "x": {"field": "d", "type": "quantitative", "axis": null},
            "y": {"field": "ang", "type": "quantitative",
              "axis": {"orient": "right", "values": [0,0.25,0.5,0.75,1.0,1.25,1.5,1.75,2.0], "labels": false, "title": null, "grid": false,
                "tickSize": {"condition": {"test": "round(datum.value*4) % 2 === 0", "value": 10}, "value": 4}}}
          }
        }
      ]
    }
  ],
  "config": {
    "font": "Liberation Sans",
    "view": {"stroke": "black", "strokeWidth": 1.5},
    "axis": {"domainColor": "black", "domainWidth": 1.5, "tickColor": "black", "tickWidth": 1.3, "labelColor": "black", "titleColor": "black",
      "labelFont": "Liberation Sans", "titleFont": "Liberation Sans", "titleFontWeight": "normal", "labelFontSize": 17,
      "gridColor": "#6f6fe0", "gridDash": [2, 2], "gridWidth": 1},
    "legend": {"labelFont": "Liberation Sans", "titleFont": "Liberation Sans"}
  }
}
